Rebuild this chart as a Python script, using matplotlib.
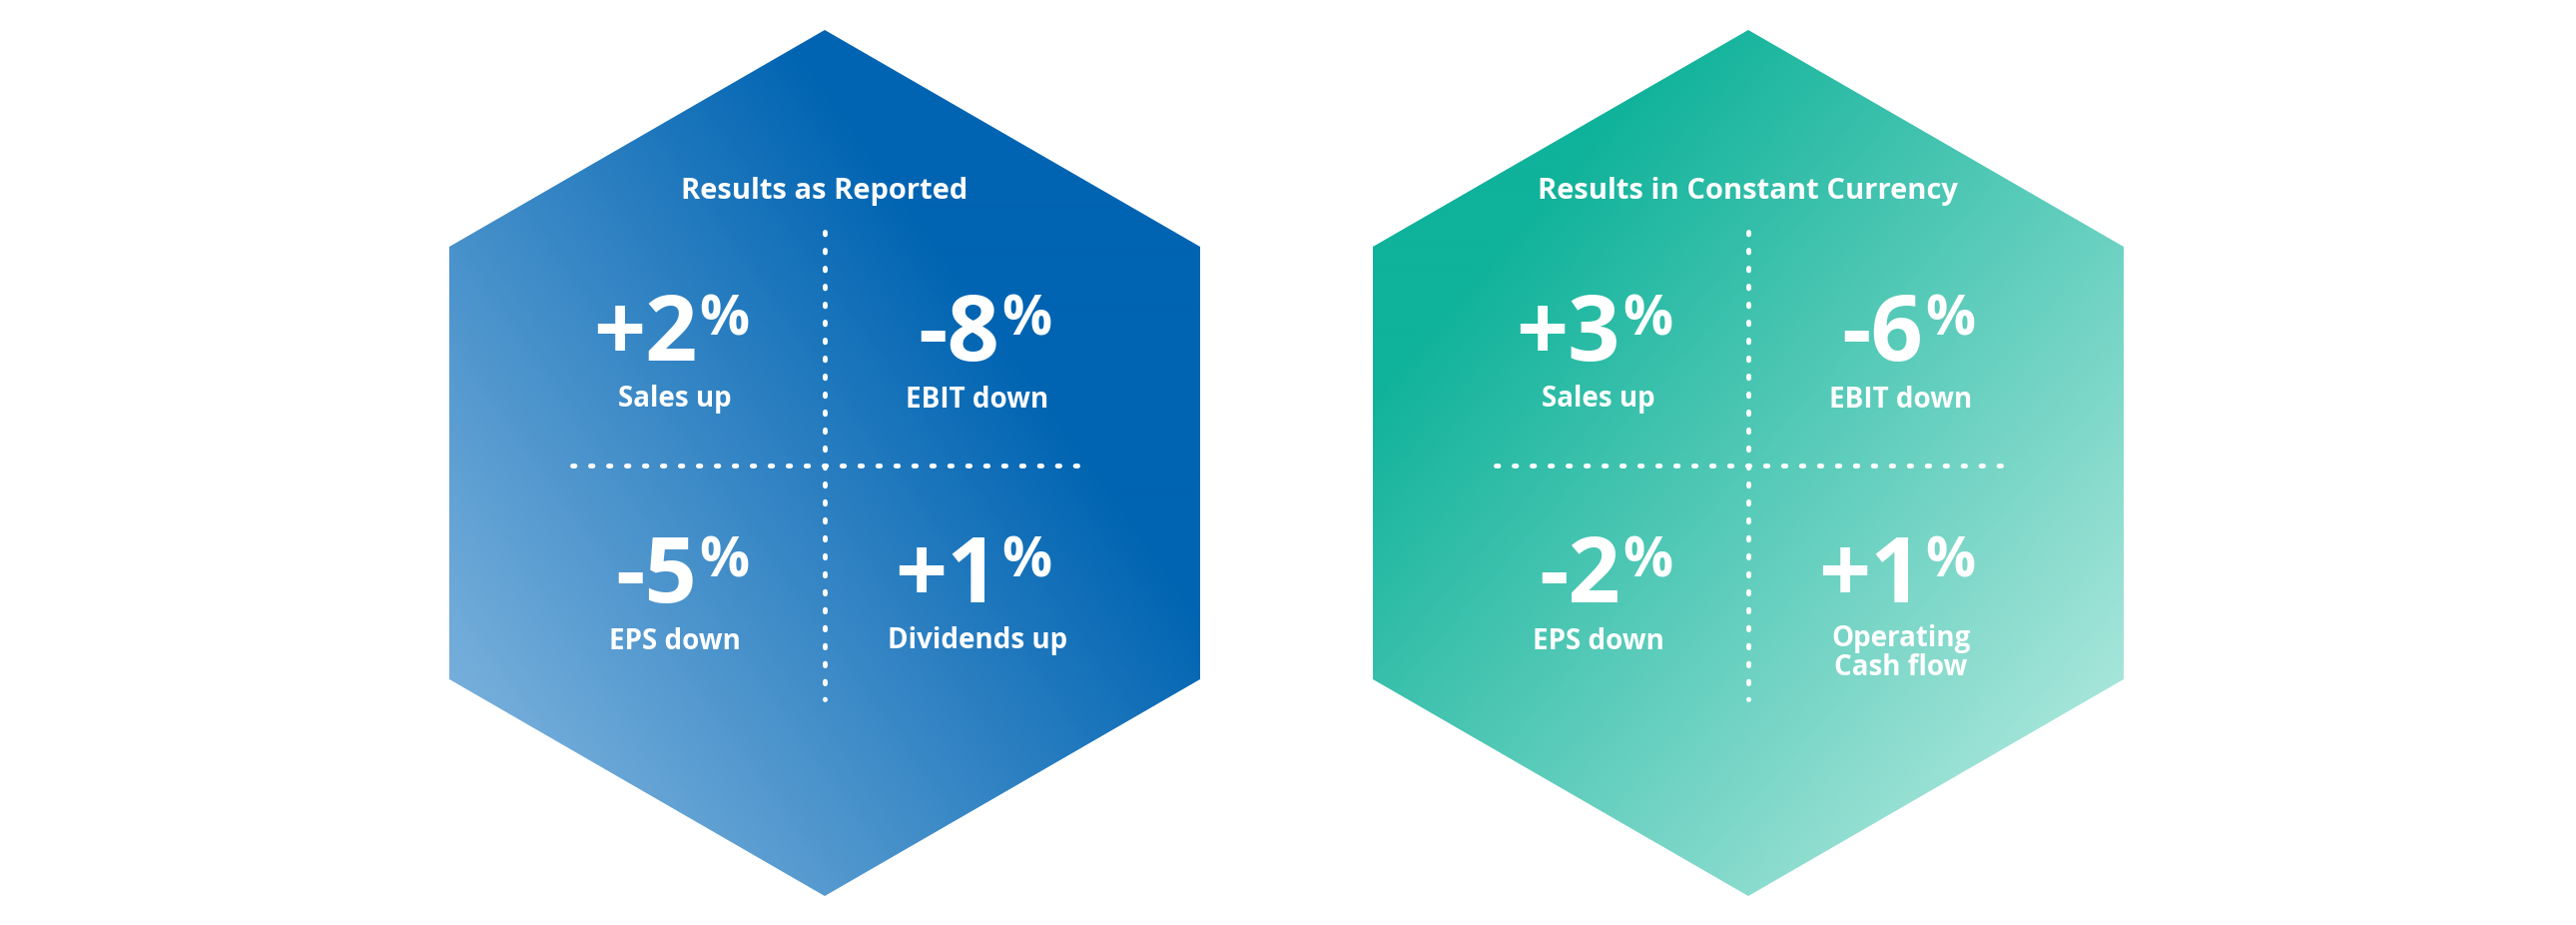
import numpy as np
import matplotlib.pyplot as plt
from matplotlib.patches import Polygon
from matplotlib.colors import LinearSegmentedColormap

titles = ["Results as Reported", "Results in Constant Currency"]
values = [["+2", "-8", "-5", "+1"], ["+3", "-6", "-2", "+1"]]
labels = [["Sales up", "EBIT down", "EPS down", "Dividends up"],
          ["Sales up", "EBIT down", "EPS down", "Operating\nCash flow"]]
centers = [826, 1751]
colors = [("#0064b2", "#8dbde3"), ("#0fb29a", "#c2efe6")]

W, H = 2580, 926
fig = plt.figure(figsize=(W / 100, H / 100), dpi=100)
ax = fig.add_axes([0, 0, 1, 1])
ax.set_xlim(0, W)
ax.set_ylim(H, 0)
ax.axis("off")

font = ["Open Sans", "DejaVu Sans"]
hw = 376
for k, cx in enumerate(centers):
    pts = [(cx, 30), (cx + hw, 247), (cx + hw, 680), (cx, 897), (cx - hw, 680), (cx - hw, 247)]
    poly = Polygon(pts, closed=True, facecolor="none", edgecolor="none")
    ax.add_patch(poly)
    yy, xx = np.mgrid[30:897:2, cx - hw:cx + hw:2]
    if k == 0:
        t = ((cx + hw - xx) / (2 * hw)) * 0.55 + ((yy - 30) / 867) * 0.45
        t = np.clip((t - 0.3) / 0.7, 0, 1)
    else:
        t = ((xx - cx + hw) / (2 * hw)) * 0.5 + ((yy - 30) / 867) * 0.5
        t = np.clip((t - 0.2) / 0.8, 0, 1)
    cmap = LinearSegmentedColormap.from_list("g", colors[k])
    im = ax.imshow(t, cmap=cmap, extent=(cx - hw, cx + hw, 897, 30), vmin=0, vmax=1, zorder=1)
    im.set_clip_path(poly)

    ax.text(cx, 191, titles[k], color="white", fontsize=21, fontweight="bold",
            ha="center", va="center", family=font, zorder=3)
    ax.plot([cx, cx], [232, 700], color="white", lw=3.5, ls=(0, (0.5, 3.2)),
            dash_capstyle="round", zorder=3)
    ax.plot([cx - 253, cx + 260], [466, 466], color="white", lw=3.5, ls=(0, (0.5, 3.2)),
            dash_capstyle="round", zorder=3)
    cols = [cx - 150, cx + 153]
    rows = [(337, 400), (579, 642)]
    for i in range(4):
        lx = cols[i % 2]
        ny, ly = rows[i // 2]
        ax.text(lx + 22, ny, values[k][i], color="white", fontsize=66, fontweight="bold",
                ha="right", va="center", family=font, zorder=3)
        ax.text(lx + 24, ny - 16, "%", color="white", fontsize=40, fontweight="bold",
                ha="left", va="center", family=font, zorder=3)
        lab = labels[k][i]
        ax.text(lx, ly + (12 if "\n" in lab else 0), lab, color="white", fontsize=20,
                fontweight="bold", ha="center", va="center", family=font,
                linespacing=1.0, zorder=3)

fig.savefig("out.png", dpi=100)
